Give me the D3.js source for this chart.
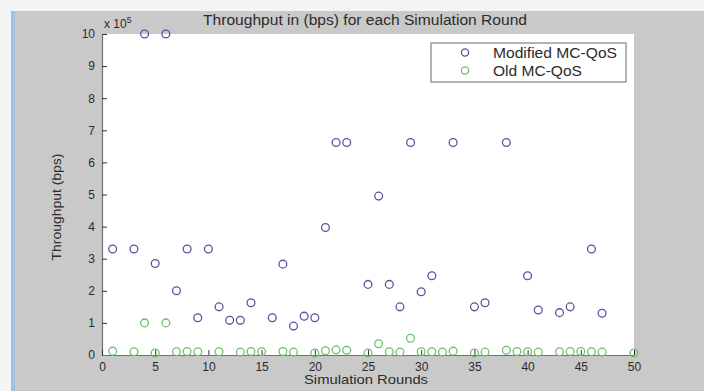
<!DOCTYPE html>
<html><head><meta charset="utf-8">
<script src="https://cdn.jsdelivr.net/npm/d3@7"></script>
<style>
html,body{margin:0;padding:0;background:#c9c9c9;}
svg{display:block;font-family:"Liberation Sans",Arial,sans-serif;}
</style></head>
<body>
<svg id="chart" width="704" height="391"></svg>
<script>
// ---- data ----
const modRounds = [1,3,4,5,6,7,8,9,10,11,12,13,14,16,17,18,19,20,21,22,23,25,26,27,28,29,30,31,33,35,36,38,40,41,43,44,46,47];
const modValues = [330000,330000,1000000,285000,1000000,200000,330000,116000,330000,150000,108000,108000,163000,116000,283000,90000,121000,116000,397000,662000,662000,220000,495000,220000,150000,662000,197000,247000,662000,150000,163000,662000,247000,140000,132000,150000,330000,130000];
const oldRounds = [1,3,4,5,6,7,8,9,11,13,14,15,17,18,20,21,22,23,25,26,27,28,29,30,31,32,33,35,36,38,39,40,41,43,44,45,46,47,50];
const oldValues = [12000,10000,100000,6000,100000,10000,11000,10000,10000,9000,11000,10000,11000,9000,6000,13000,16000,15000,6000,35000,10000,9000,52000,10000,10000,9000,12000,6000,9000,15000,11000,10000,9000,10000,11000,11000,10000,9000,6000];
const yTicks = [0,100000,200000,300000,400000,500000,600000,700000,800000,900000,1000000];
const xTicks = [0,5,10,15,20,25,30,35,40,45,50];
const seriesNames = ["Modified MC-QoS","Old MC-QoS"];
const titleText = "Throughput in (bps) for each Simulation Round";
const xLabel = "Simulation Rounds";
const yLabel = "Throughput (bps)";

// ---- drawing ----
const svg = d3.select("#chart");
const modColor = "#55559a", oldColor = "#6cc06c";
const L = 102, R = 634, T = 34, B = 355;

svg.append("rect").attr("x",0).attr("y",0).attr("width",704).attr("height",391).attr("fill","#c9c9c9");
svg.append("rect").attr("x",0).attr("y",0).attr("width",704).attr("height",11).attr("fill","#f4f4f4");
svg.append("rect").attr("x",0).attr("y",0).attr("width",11).attr("height",391).attr("fill","#f4f4f4");
svg.append("rect").attr("x",11).attr("y",11).attr("width",4).attr("height",380).attr("fill","#9fc2e2");

const x = d3.scaleLinear().domain([0,50]).range([L,R]);
const y = d3.scaleLinear().domain([0,1000000]).range([B,T]);

svg.append("rect").attr("x",L).attr("y",T).attr("width",R-L).attr("height",B-T).attr("fill","#ffffff");

const gy = svg.append("g").attr("transform",`translate(${L},0)`)
  .call(d3.axisLeft(y).tickValues(yTicks).tickFormat(d=>d/100000).tickSizeInner(-5).tickSizeOuter(0).tickPadding(7));
const gx = svg.append("g").attr("transform",`translate(0,${B})`)
  .call(d3.axisBottom(x).tickValues(xTicks).tickFormat(d3.format("d")).tickSizeInner(-5).tickSizeOuter(0).tickPadding(7));
[gx,gy].forEach(g=>{
  g.selectAll(".domain").attr("stroke","#707070").attr("stroke-width",1.2);
  g.selectAll(".tick line").attr("stroke","#333").attr("stroke-width",1);
  g.selectAll(".tick text").attr("fill","#2c2c2c").attr("font-size",12).attr("font-family","Liberation Sans, Arial, sans-serif");
});

const ex = svg.append("text").attr("x",L+2).attr("y",T-6).attr("font-size",12).attr("fill","#2c2c2c");
ex.append("tspan").text("x 10");
ex.append("tspan").attr("dy",-5).attr("font-size",8.5).text("5");

svg.append("text").attr("x",365).attr("y",25).attr("text-anchor","middle").attr("font-size",14)
  .attr("textLength",324).attr("lengthAdjust","spacingAndGlyphs").attr("fill","#2c2c2c").text(titleText);
svg.append("text").attr("x",366).attr("y",384).attr("text-anchor","middle").attr("font-size",13.5)
  .attr("textLength",124).attr("lengthAdjust","spacingAndGlyphs").attr("fill","#2c2c2c").text(xLabel);
svg.append("text").attr("transform",`translate(61,207) rotate(-90)`).attr("text-anchor","middle").attr("font-size",13)
  .attr("textLength",107).attr("lengthAdjust","spacingAndGlyphs").attr("fill","#2c2c2c").text(yLabel);

const plot = svg.append("g");
plot.selectAll("circle.old").data(oldRounds.map((r,i)=>[r,oldValues[i]])).join("circle")
  .attr("class","old").attr("cx",d=>x(d[0])).attr("cy",d=>y(d[1]))
  .attr("r",3.9).attr("fill","none").attr("stroke",oldColor).attr("stroke-width",1.3);
plot.selectAll("circle.mod").data(modRounds.map((r,i)=>[r,modValues[i]])).join("circle")
  .attr("class","mod").attr("cx",d=>x(d[0])).attr("cy",d=>y(d[1]))
  .attr("r",3.9).attr("fill","none").attr("stroke",modColor).attr("stroke-width",1.3);

const lg = svg.append("g");
lg.append("rect").attr("x",431).attr("y",43).attr("width",195).attr("height",39).attr("fill","#fff").attr("stroke","#808080").attr("stroke-width",1.2);
[[modColor,seriesNames[0],52.5,124],[oldColor,seriesNames[1],70.5,89]].forEach(([c,t,yy,w])=>{
  lg.append("circle").attr("cx",465).attr("cy",yy).attr("r",3.6).attr("fill","none").attr("stroke",c).attr("stroke-width",1.3);
  lg.append("text").attr("x",493).attr("y",yy+5).attr("font-size",14.5).attr("textLength",w).attr("lengthAdjust","spacingAndGlyphs")
    .attr("fill","#2c2c2c").text(t);
});
</script>
</body></html>
